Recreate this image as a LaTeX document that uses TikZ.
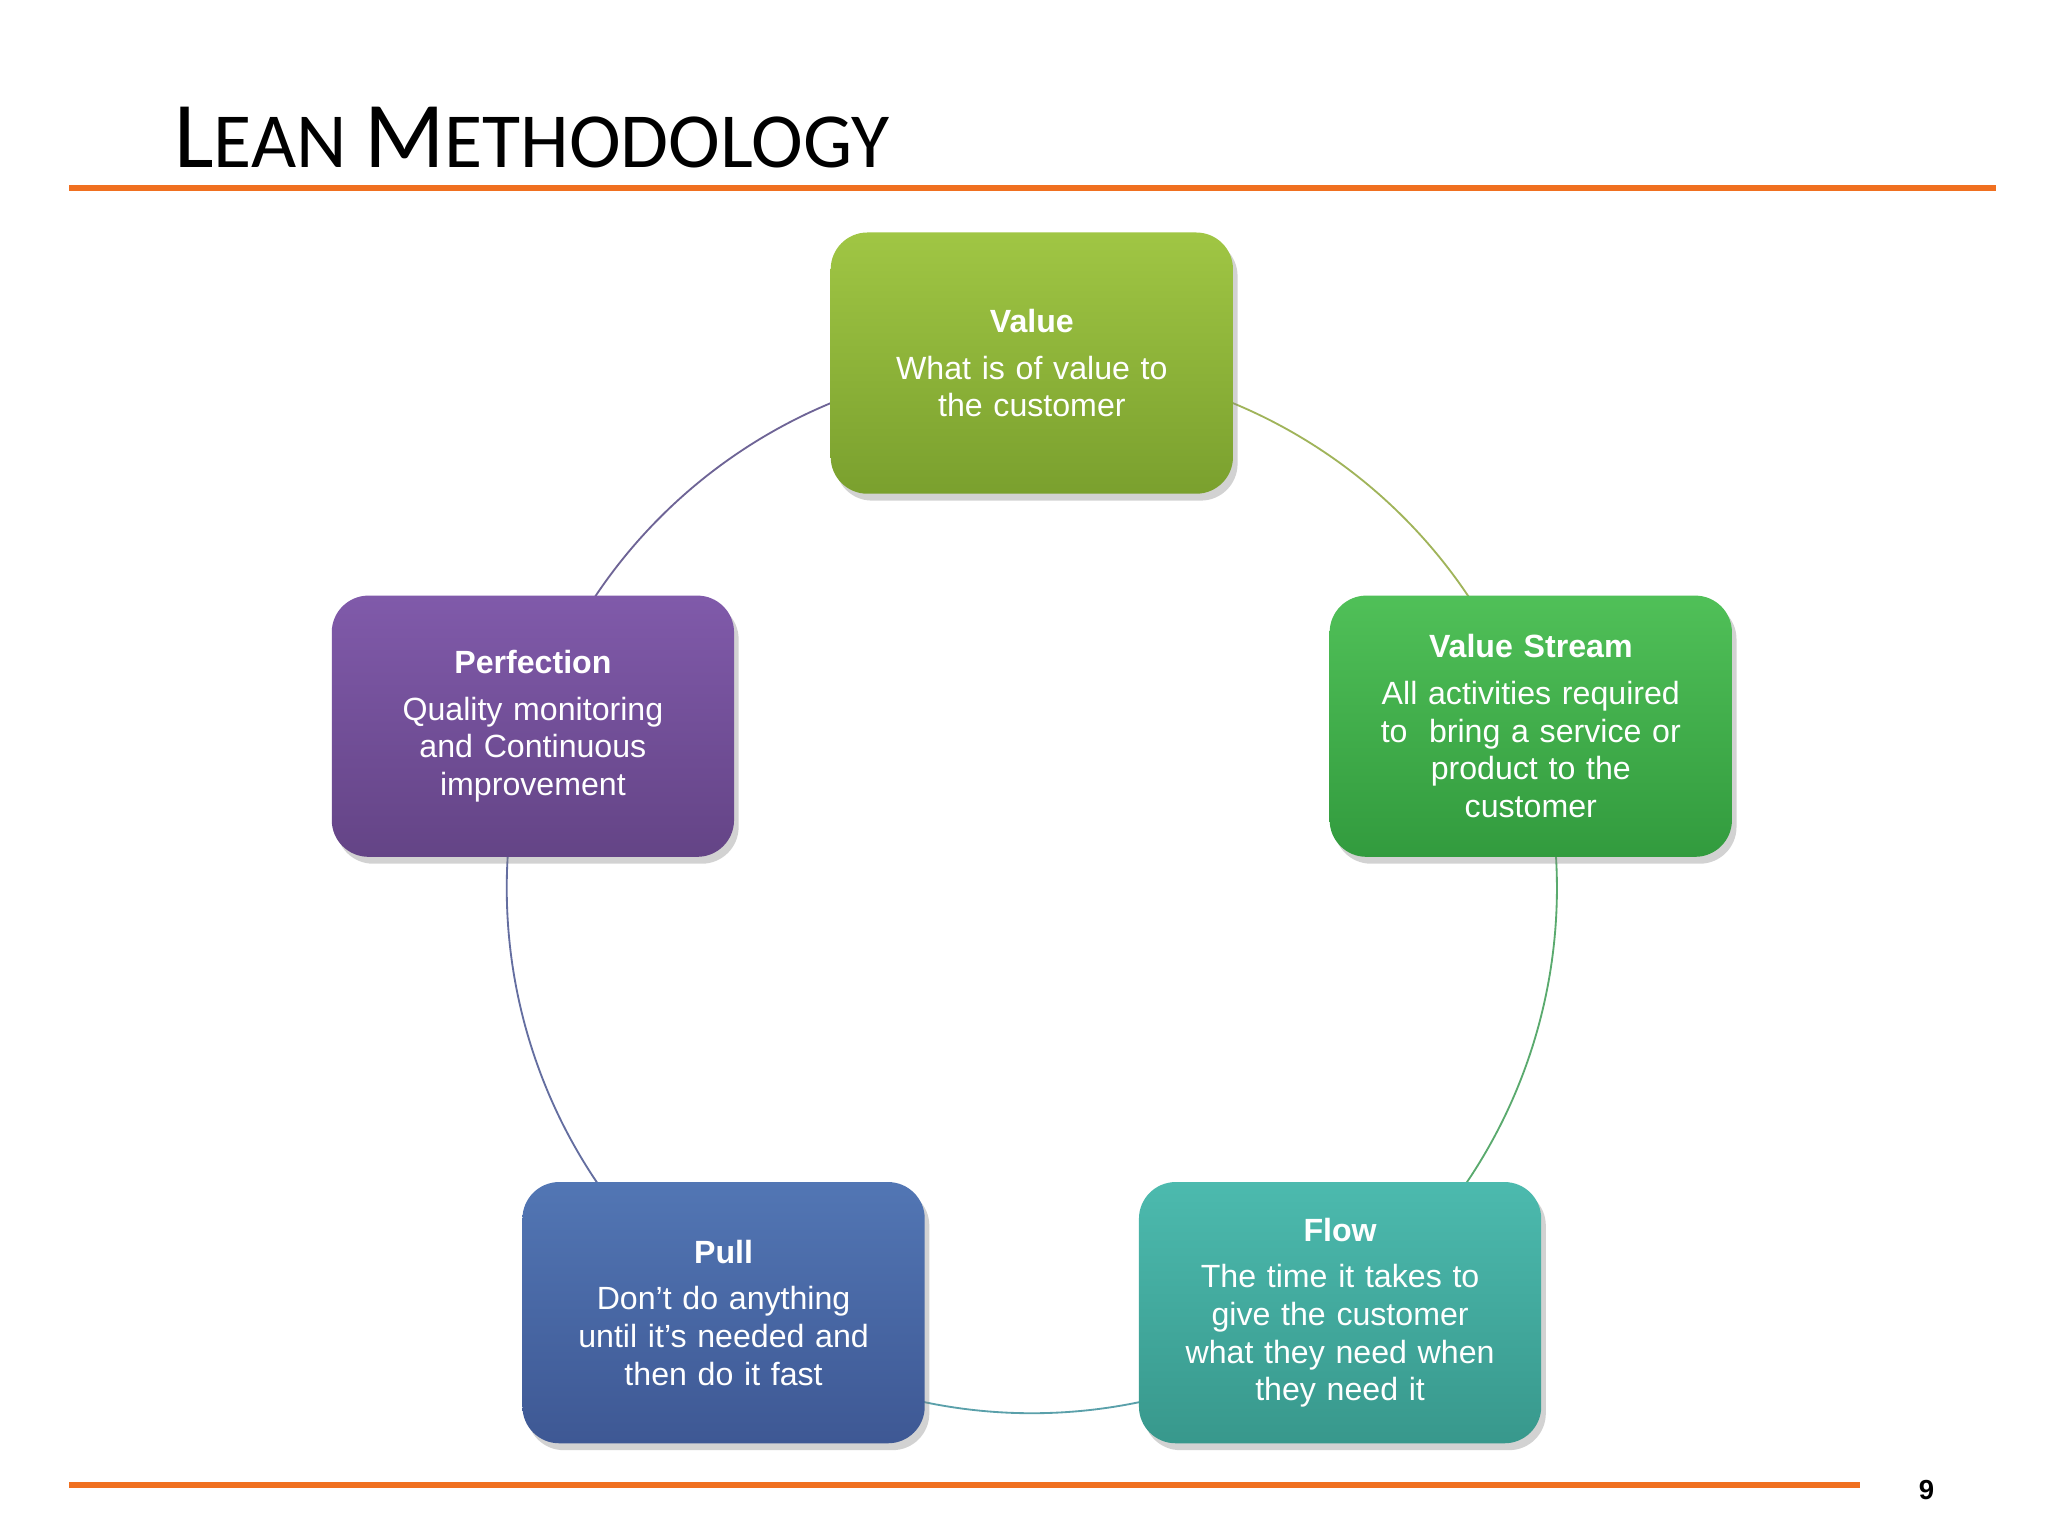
\documentclass[tikz,border=0pt]{standalone}
\usepackage{fontspec}
\setmainfont{Liberation Sans}
\newfontfamily\calib{Carlito}
\usetikzlibrary{shadows}
\definecolor{orl}{HTML}{F07020}
\tikzset{
 box/.style={rounded corners=16pt, minimum width=308*0.02cm, minimum height=200*0.02cm,
   text width=290*0.02cm, align=center, text=white, drop shadow={opacity=0.35,shadow xshift=2pt,shadow yshift=-3pt},
   font=\fontsize{14}{16.4}\selectfont},
 arc/.style={line width=0.8pt}
}
\begin{document}
\begin{tikzpicture}[x={(0.02cm,0)},y={(0,-0.02cm)}]
\useasboundingbox[fill=white] (0,0) rectangle (1568,1176);
\node[anchor=base west,inner sep=0] (title) at (133,128) {\calib\fontsize{41}{41}\selectfont L\fontsize{34}{34}\selectfont EAN \fontsize{41}{41}\selectfont M\fontsize{34}{34}\selectfont ETHODOLOGY};
\draw[orl,line width=2.4pt] (53,144) -- (1528,144);
\draw[orl,line width=2.4pt] (53,1137) -- (1424,1137);
\node[font=\bfseries\fontsize{12}{12}\selectfont] (pg) at (1475,1141) {9};
% ring
\coordinate (c) at (790,680);
\draw[arc,color={rgb,255:red,160;green,180;blue,90}] (c) ++(90:402*0.02cm) arc[start angle=90,end angle=18,radius=402*0.02cm];
\draw[arc,color={rgb,255:red,90;green,170;blue,110}] (c) ++(18:402*0.02cm) arc[start angle=18,end angle=-54,radius=402*0.02cm];
\draw[arc,color={rgb,255:red,90;green,160;blue,170}] (c) ++(-54:402*0.02cm) arc[start angle=-54,end angle=-126,radius=402*0.02cm];
\draw[arc,color={rgb,255:red,100;green,110;blue,160}] (c) ++(-126:402*0.02cm) arc[start angle=-126,end angle=-198,radius=402*0.02cm];
\draw[arc,color={rgb,255:red,110;green,100;blue,150}] (c) ++(162:402*0.02cm) arc[start angle=162,end angle=90,radius=402*0.02cm];
% boxes
\node[box,top color={rgb,255:red,160;green,198;blue,68},bottom color={rgb,255:red,122;green,160;blue,46}] (v) at (790,278)
 {{\bfseries Value}\\[4pt] What is of value to\\the customer};
\node[box,top color={rgb,255:red,80;green,192;blue,88},bottom color={rgb,255:red,50;green,155;blue,62}] (vs) at (1172,556)
 {{\bfseries Value Stream}\\[4pt] All activities required\\to\ \ bring a service or\\product to the\\customer};
\node[box,top color={rgb,255:red,76;green,186;blue,174},bottom color={rgb,255:red,56;green,152;blue,140}] (f) at (1026,1005)
 {{\bfseries Flow}\\[4pt] The time it takes to\\give the customer\\what they need when\\they need it};
\node[box,top color={rgb,255:red,82;green,118;blue,180},bottom color={rgb,255:red,62;green,88;blue,148}] (p) at (554,1005)
 {{\bfseries Pull}\\[4pt] Don’t do anything\\until it’s needed and\\then do it fast};
\node[box,top color={rgb,255:red,128;green,90;blue,170},bottom color={rgb,255:red,100;green,68;blue,134}] (pf) at (408,556)
 {{\bfseries Perfection}\\[4pt] Quality monitoring\\and Continuous\\improvement};
\end{tikzpicture}
\end{document}
